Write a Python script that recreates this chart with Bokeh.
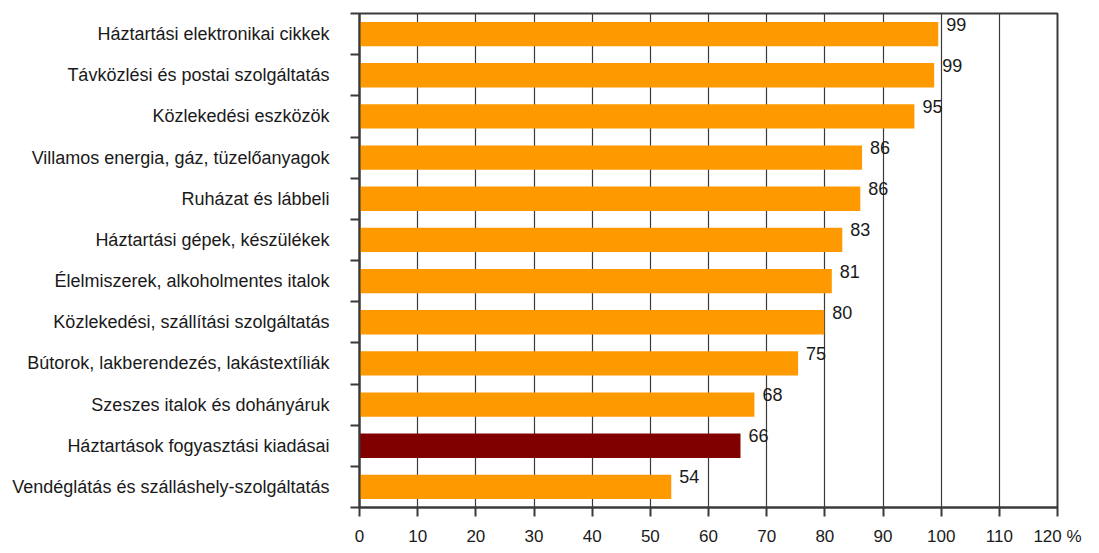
from bokeh.plotting import figure
from bokeh.models import ColumnDataSource, FixedTicker, LabelSet, Range1d
from bokeh.core.properties import value
from bokeh.embed import file_html
from bokeh.resources import INLINE

categories = [
    "Háztartási elektronikai cikkek",
    "Távközlési és postai szolgáltatás",
    "Közlekedési eszközök",
    "Villamos energia, gáz, tüzelőanyagok",
    "Ruházat és lábbeli",
    "Háztartási gépek, készülékek",
    "Élelmiszerek, alkoholmentes italok",
    "Közlekedési, szállítási szolgáltatás",
    "Bútorok, lakberendezés, lakástextíliák",
    "Szeszes italok és dohányáruk",
    "Háztartások fogyasztási kiadásai",
    "Vendéglátás és szálláshely-szolgáltatás",
]
values = [99.5, 98.8, 95.4, 86.4, 86.1, 83.0, 81.2, 79.9, 75.4, 67.9, 65.5, 53.6]
value_labels = ["99", "99", "95", "86", "86", "83", "81", "80", "75", "68", "66", "54"]
highlight = "Háztartások fogyasztási kiadásai"
x_ticks = [0, 10, 20, 30, 40, 50, 60, 70, 80, 90, 100, 110, 120]
x_tick_labels = ["0", "10", "20", "30", "40", "50", "60", "70", "80", "90", "100", "110", "120 %"]

ORANGE = "#FF9900"
DARKRED = "#800000"
GRID = "#3a3a3a"
FONT = "Liberation Sans"
TEXT = "#1a1a1a"

n = len(categories)
ypos = [n - 1 - i for i in range(n)]
colors = [DARKRED if c == highlight else ORANGE for c in categories]

src = ColumnDataSource(dict(y=ypos, v=values, lab=value_labels, c=colors, cat=categories))

p = figure(width=1089, height=548, output_backend="svg", toolbar_location=None,
           x_range=Range1d(0, 120), y_range=Range1d(-0.5, n - 0.5),
           min_border_left=359, min_border_right=32, min_border_top=13, min_border_bottom=39)

p.hbar(y="y", right="v", left=0, height=0.59, color="c", line_color=None, source=src)

labels = LabelSet(x="v", y="y", text="lab", source=src, x_offset=8, y_offset=10,
                  text_font=value(FONT), text_font_size=value("18px"), text_color=value(TEXT),
                  text_baseline=value("middle"), text_align=value("left"))
p.add_layout(labels)

# x axis
p.xaxis.ticker = FixedTicker(ticks=x_ticks)
p.xaxis.major_label_overrides = {t: l for t, l in zip(x_ticks, x_tick_labels)}
p.xaxis.major_label_text_font = FONT
p.xaxis.major_label_text_font_size = "17px"
p.xaxis.major_label_text_color = TEXT
p.xaxis.major_tick_out = 9
p.xaxis.major_tick_in = 0
p.xaxis.minor_tick_out = 0
p.xaxis.minor_tick_in = 0
p.xaxis.major_label_standoff = 10
p.xaxis.axis_line_color = GRID
p.xaxis.axis_line_width = 2
p.xaxis.major_tick_line_color = GRID
p.xaxis.major_tick_line_width = 2

# y axis: labels at centers, tick marks at boundaries
p.yaxis.ticker = FixedTicker(ticks=ypos, minor_ticks=[k - 0.5 for k in range(n + 1)])
p.yaxis.major_label_overrides = {y: c for y, c in zip(ypos, categories)}
p.yaxis.major_label_text_font = FONT
p.yaxis.major_label_text_font_size = "18px"
p.yaxis.major_label_text_color = TEXT
p.yaxis.major_tick_out = 0
p.yaxis.major_tick_in = 0
p.yaxis.minor_tick_out = 9
p.yaxis.minor_tick_in = 0
p.yaxis.minor_tick_line_color = GRID
p.yaxis.minor_tick_line_width = 2
p.yaxis.major_label_standoff = 21
p.yaxis.axis_line_color = GRID
p.yaxis.axis_line_width = 2

p.xgrid.ticker = FixedTicker(ticks=x_ticks)
p.xgrid.grid_line_color = GRID
p.xgrid.grid_line_width = 1.2
p.ygrid.grid_line_color = None

p.outline_line_color = GRID
p.outline_line_width = 2
p.outline_line_alpha = 1

p.background_fill_color = "white"
p.border_fill_color = "white"

open("out.html", "w").write(file_html(p, INLINE))
